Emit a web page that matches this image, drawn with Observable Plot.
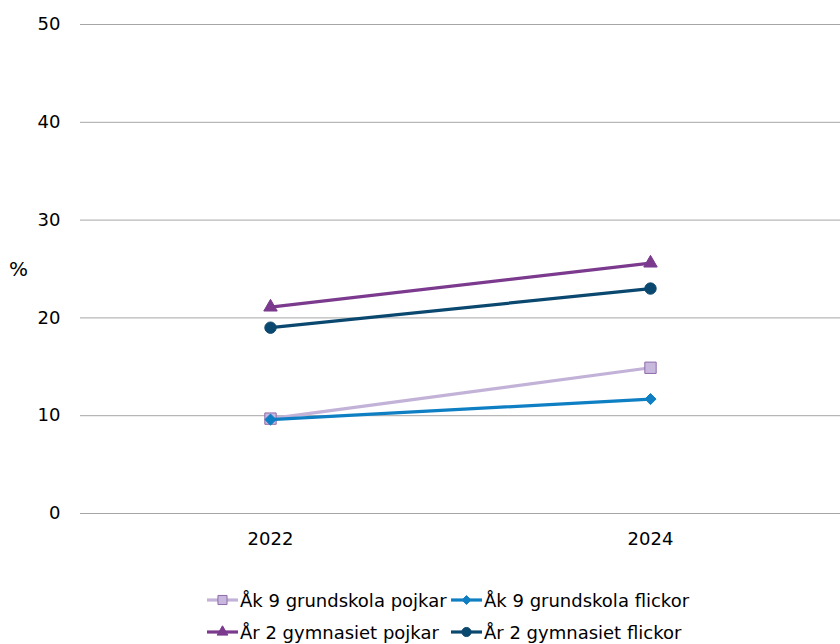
<!DOCTYPE html>
<html><head><meta charset="utf-8">
<script src="https://cdn.jsdelivr.net/npm/d3@7"></script>
<script src="https://cdn.jsdelivr.net/npm/@observablehq/plot@0.6"></script>
<style>
body{margin:0;background:#fff;font-family:"DejaVu Sans",Verdana,sans-serif;}
#wrap{position:relative;width:840px;height:644px;overflow:hidden;}
#pct{position:absolute;left:9px;top:257px;font-size:20px;color:#000;}
#legend{position:absolute;left:206px;top:589px;display:grid;grid-template-columns:244px auto;row-gap:10px;font-size:18px;color:#000;}
.item{display:flex;align-items:center;white-space:nowrap;height:22px;}
.item svg{margin-right:1px;}
</style></head><body>
<div id="wrap"><div id="chart"></div><div id="pct">%</div><div id="legend"></div></div>
<script>
const years = ["2022", "2024"];
const seriesNames = ["Åk 9 grundskola pojkar", "Åk 9 grundskola flickor", "År 2 gymnasiet pojkar", "År 2 gymnasiet flickor"];
const ak9Pojkar = [9.7, 14.9];
const ak9Flickor = [9.6, 11.7];
const ar2Pojkar = [21.1, 25.6];
const ar2Flickor = [19.0, 23.0];
const yTicks = [0, 10, 20, 30, 40, 50];

const seriesValues = [ak9Pojkar, ak9Flickor, ar2Pojkar, ar2Flickor];
const lineColors = ["#c3b2d8", "#0f7fc4", "#7b3a8e", "#0b4870"];
const markFills = ["#c9b8dd", "#0f7fc4", "#7b3a8e", "#0b4870"];
const markStrokes = ["#8e6aaa", "#0f7fc4", "#7b3a8e", "#0b4870"];
const symbols = ["square", "diamond2", "triangle", "circle"];
const symSizes = [6.4, 5, 5, 5.7];

const data = [];
seriesNames.forEach((s, i) => years.forEach((y, j) => data.push({series: s, idx: i, year: y, value: seriesValues[i][j]})));

const marks = [Plot.gridY(yTicks, {stroke: "#a6a6a6", strokeOpacity: 1, strokeWidth: 1})];
seriesNames.forEach((s, i) => {
  const d = data.filter(r => r.idx === i);
  marks.push(Plot.line(d, {x: "year", y: "value", stroke: lineColors[i], strokeWidth: 3.2}));
  marks.push(Plot.dot(d, {x: "year", y: "value", symbol: () => symbols[i], r: symSizes[i], fill: markFills[i], stroke: markStrokes[i], strokeWidth: 1}));
});
marks.push(Plot.axisY(yTicks, {tickSize: 0, tickPadding: 20, fontSize: 18, label: null}));
marks.push(Plot.axisX(years, {tickSize: 0, tickPadding: 19, fontSize: 18, label: null}));

const chart = Plot.plot({
  width: 840, height: 560,
  marginLeft: 80, marginRight: 0, marginTop: 24, marginBottom: 47,
  style: {fontFamily: "'DejaVu Sans', Verdana, sans-serif", fontSize: "18px", color: "#000", background: "#fff"},
  x: {type: "point", domain: years, padding: 0.5},
  y: {domain: [0, 50]},
  symbol: {type: "identity"},
  marks
});
document.getElementById("chart").appendChild(chart);

// legend
const legend = d3.select("#legend");
seriesNames.forEach((s, i) => {
  const item = legend.append("div").attr("class", "item");
  const svg = item.append("svg").attr("width", 33).attr("height", 16);
  svg.append("line").attr("x1", 1).attr("x2", 32).attr("y1", 8).attr("y2", 8).attr("stroke", lineColors[i]).attr("stroke-width", 3.2);
  const sym = {square: d3.symbolSquare, diamond2: d3.symbolDiamond2, triangle: d3.symbolTriangle, circle: d3.symbolCircle}[symbols[i]];
  const r = symSizes[i] * 0.8;
  svg.append("path").attr("transform", "translate(16.5,8)").attr("d", d3.symbol(sym, Math.PI * r * r)())
    .attr("fill", markFills[i]).attr("stroke", markStrokes[i]).attr("stroke-width", 1);
  item.append("span").text(s);
});
</script>
</body></html>
